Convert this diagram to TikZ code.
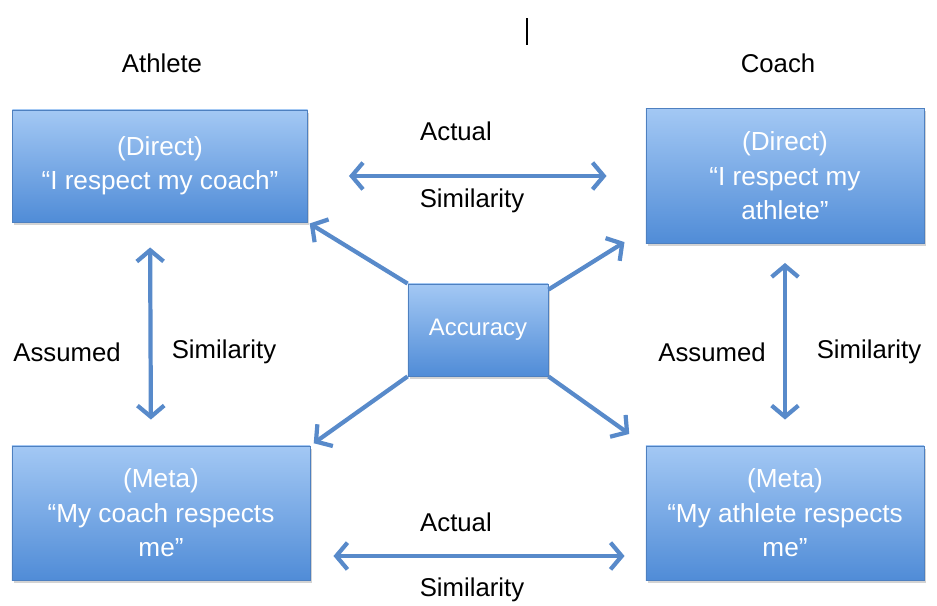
\documentclass[tikz,border=0pt]{standalone}
\usepackage{fontspec}
\setmainfont{Liberation Sans}
\usetikzlibrary{arrows.meta,shadows}

\definecolor{boxtop}{RGB}{163,200,244}
\definecolor{boxbot}{RGB}{80,140,215}
\definecolor{boxline}{RGB}{78,128,192}
\definecolor{linkblue}{RGB}{88,138,202}

\begin{document}
\begin{tikzpicture}[x=0.025cm, y=-0.025cm,
    respbox/.style={draw=boxline, line width=0.6pt, top color=boxtop, bottom color=boxbot,
      text=white, align=center, inner sep=0pt,
      font=\fontsize{18.6}{24.5}\selectfont,
      drop shadow={opacity=0.35, shadow xshift=0.04cm, shadow yshift=-0.07cm}},
    linkarrow/.style={draw=linkblue, line width=3pt,
      {Straight Barb[length=8pt, width=19pt]}-{Straight Barb[length=8pt, width=19pt]}},
    onearrow/.style={draw=linkblue, line width=3pt, -{Straight Barb[length=8pt, width=19pt]}},
    lbl/.style={font=\fontsize{18.3}{22}\selectfont, inner sep=0pt}]

        \useasboundingbox (0,0) rectangle (937,605);

        % Headings
        \node[lbl] (athLabel) at (162,63) {Athlete};
        \node[lbl] (coaLabel) at (778,63) {Coach};
        \draw[line width=1pt] (527,18) -- (527,45);

        % Boxes
        \node[respbox, minimum width=7.375cm, minimum height=2.8cm] (athDirect) at (160,166)
          {(Direct)\\``I respect my coach''};
        \node[respbox, minimum width=6.95cm, minimum height=3.375cm] (coaDirect) at (785,176)
          {(Direct)\\``I respect my\\athlete''};
        \node[respbox, minimum width=7.45cm, minimum height=3.35cm] (athMeta) at (161,513)
          {(Meta)\\``My coach respects\\me''};
        \node[respbox, minimum width=6.95cm, minimum height=3.35cm] (coaMeta) at (785,513)
          {(Meta)\\``My athlete respects\\me''};
        \node[respbox, minimum width=3.5cm, minimum height=2.3cm,
              font=\fontsize{17}{20}\selectfont] (accuracy) at (478,330) {Accuracy};

        % Actual similarity
        \draw[linkarrow, shorten <=1.025cm, shorten >=0.975cm]
          (athDirect.east |- coaDirect.west) -- (coaDirect.west);
        \node[lbl] (actTop) at (456,131) {Actual};
        \node[lbl] (simTop) at (472,201) {Similarity};

        \draw[linkarrow, shorten <=0.575cm, shorten >=0.525cm]
          ([yshift=-1.075cm]athMeta.east) -- ([yshift=-1.075cm]coaMeta.west);
        \node[lbl] (actBot) at (456,522) {Actual};
        \node[lbl] (simBot) at (472,590) {Similarity};

        % Assumed similarity
        \draw[linkarrow, shorten <=0.625cm, shorten >=0.65cm]
          ([xshift=-0.25cm]athDirect.south) -- ([xshift=-0.25cm]athMeta.north);
        \node[lbl] (assLeft) at (67,352) {Assumed};
        \node[lbl] (simLeft) at (224,352) {Similarity};

        \draw[linkarrow, shorten <=0.475cm, shorten >=0.65cm]
          (coaDirect.south) -- (coaMeta.north);
        \node[lbl] (assRight) at (712,352) {Assumed};
        \node[lbl] (simRight) at (869,352) {Similarity};

        % Accuracy links
        \draw[onearrow, shorten >=0.05cm] (accuracy.north west) -- (athDirect.south east);
        \draw[onearrow, shorten >=0.62cm]
          ([yshift=-0.15cm]accuracy.north east) -- ([yshift=0.375cm]coaDirect.south west);
        \draw[onearrow, shorten >=0.1cm] (accuracy.south west) -- (athMeta.north east);
        \draw[onearrow, shorten >=0.5cm] (accuracy.south east) -- (coaMeta.north west);

\end{tikzpicture}
\end{document}
